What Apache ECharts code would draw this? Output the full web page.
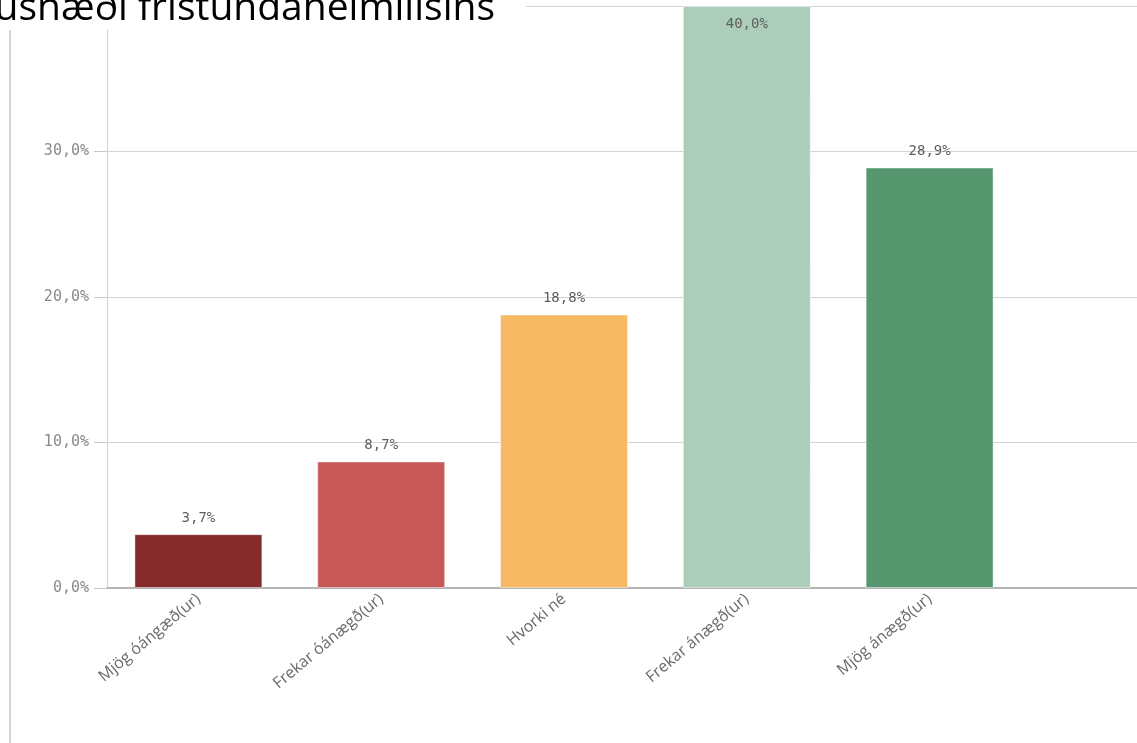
<!DOCTYPE html>
<html>
<head>
<meta charset="utf-8">
<script src="https://cdn.jsdelivr.net/npm/echarts@6/dist/echarts.min.js"></script>
<style>html,body{margin:0;padding:0;background:#fff}#c{width:1137px;height:743px}</style>
</head>
<body>
<div id="c"></div>
<script>
var titleText = 'húsnæði frístundaheimilisins';
var categories = ['Mjög óángæð(ur)', 'Frekar óánægð(ur)', 'Hvorki né', 'Frekar ánægð(ur)', 'Mjög ánægð(ur)'];
var values = [3.7, 8.7, 18.8, 40.0, 28.9];
var colors = ['#852a2a', '#c75a59', '#f8b965', '#abcdb9', '#569770'];
var yTicks = [0, 10, 20, 30, 40];

var yMin = yTicks[0], yMax = yTicks[yTicks.length - 1], yStep = yTicks[1] - yTicks[0];
function pct(v) { return v.toFixed(1).replace('.', ',') + '%'; }

var chart = echarts.init(document.getElementById('c'), null, { renderer: 'canvas' });
var monoFont = '"DejaVu Sans Mono", monospace';

var data = values.map(function (v, i) {
  var item = { value: v, itemStyle: { color: colors[i] } };
  if (v >= yMax) {
    item.label = { position: 'insideTop', distance: 11 };
  }
  return item;
});

var option = {
  animation: false,
  backgroundColor: '#ffffff',
  grid: [
    { left: 107, top: 6, width: 914, bottom: 155, containLabel: false },
    { left: 1021, top: 6, right: 0, bottom: 155, containLabel: false }
  ],
  xAxis: [
    {
      type: 'category', gridIndex: 0, data: categories,
      axisLine: { show: true, lineStyle: { color: '#b5b5b5', width: 2 } },
      axisTick: { show: false },
      axisLabel: {
        rotate: 40, margin: 9, interval: 0,
        color: '#6a6a6a', fontSize: 16, fontFamily: '"Open Sans", sans-serif'
      }
    },
    {
      type: 'category', gridIndex: 1, data: [''],
      axisLine: { show: true, lineStyle: { color: '#b5b5b5', width: 2 } },
      axisTick: { show: false }, axisLabel: { show: false }
    }
  ],
  yAxis: [
    {
      type: 'value', gridIndex: 0, min: yMin, max: yMax, interval: yStep,
      axisLine: { show: true, lineStyle: { color: '#d0d0d0', width: 1 } },
      axisTick: { show: true, length: 13, lineStyle: { color: '#c8c8c8' } },
      splitLine: { show: true, lineStyle: { color: '#d4d4d4', width: 1 } },
      axisLabel: {
        margin: 18, color: '#8a8a8a', fontSize: 15, fontFamily: monoFont,
        showMaxLabel: false,
        formatter: function (v) { return pct(v); }
      }
    },
    {
      type: 'value', gridIndex: 1, min: yMin, max: yMax, interval: yStep,
      axisLine: { show: false }, axisTick: { show: false }, axisLabel: { show: false },
      splitLine: { show: true, lineStyle: { color: '#d4d4d4', width: 1 } }
    }
  ],
  series: [
    {
      type: 'bar', xAxisIndex: 0, yAxisIndex: 0,
      data: data,
      barCategoryGap: '30%',
      itemStyle: { borderColor: 'rgba(255,255,255,0.45)', borderWidth: 1 },
      label: {
        show: true, position: 'top', distance: 9,
        color: '#5e5e5e', fontSize: 14, fontFamily: monoFont,
        formatter: function (p) { return pct(p.value); }
      }
    }
  ],
  graphic: [
    {
      type: 'line', z: 50,
      shape: { x1: 10, y1: 30, x2: 10, y2: 743 },
      style: { stroke: '#d6d6d6', lineWidth: 2 }
    },
    {
      type: 'rect', z: 90,
      shape: { x: 0, y: 0, width: 526, height: 30 },
      style: { fill: '#ffffff' }
    },
    {
      type: 'text', z: 100, right: 1137 - 495, top: -11,
      style: {
        text: titleText, fill: '#000000', font: '39px "Open Sans", sans-serif'
      }
    }
  ]
};
chart.setOption(option);
</script>
</body>
</html>
